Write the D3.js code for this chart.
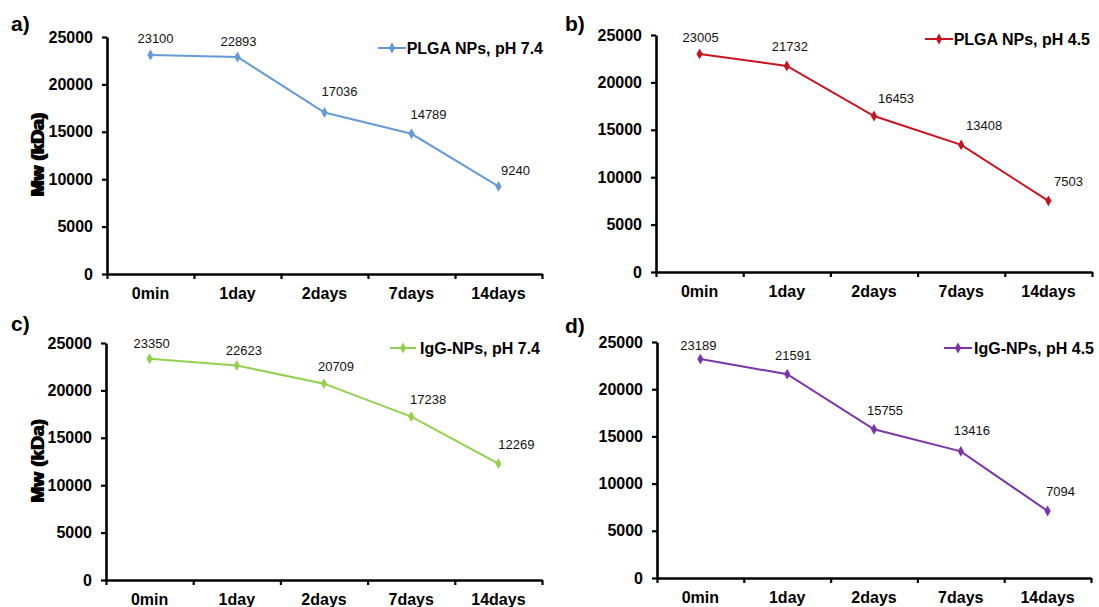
<!DOCTYPE html>
<html>
<head>
<meta charset="utf-8">
<script src="https://cdn.jsdelivr.net/npm/d3@7"></script>
<style>
  html, body { margin: 0; padding: 0; background: #fff; }
  svg { display: block; font-family: "Liberation Sans", Arial, sans-serif; }
</style>
</head>
<body>
<svg id="chart" width="1099" height="607"></svg>
<script>
// ---- data ----
const categories = ["0min", "1day", "2days", "7days", "14days"];
const yTicks = [0, 5000, 10000, 15000, 20000, 25000];
const plgaPH74 = [23100, 22893, 17036, 14789, 9240];
const plgaPH45 = [23005, 21732, 16453, 13408, 7503];
const iggPH74 = [23350, 22623, 20709, 17238, 12269];
const iggPH45 = [23189, 21591, 15755, 13416, 7094];
const seriesNames = ["PLGA NPs, pH 7.4", "PLGA NPs, pH 4.5", "IgG-NPs, pH 7.4", "IgG-NPs, pH 4.5"];
const panelLetters = ["a)", "b)", "c)", "d)"];
const yTitle = "Mw (kDa)";

// ---- layout (not data) ----
const panels = [
  { values: plgaPH74, name: seriesNames[0], letter: panelLetters[0], color: "#659ad6",
    x0: 107, x1: 542, yTop: 37, yBot: 274, letterPos: [11, 31],
    legend: { l0: 378, l1: 406, end: 543, y: 48 },
    lblDx: [5, 1, 15, 17, 17], lblDy: [-17, -16, -21, -19, -16] },
  { values: plgaPH45, name: seriesNames[1], letter: panelLetters[1], color: "#c8141e",
    x0: 656, x1: 1092, yTop: 35, yBot: 272, letterPos: [565, 31],
    legend: { l0: 925, l1: 953, end: 1090, y: 39 },
    lblDx: [1, 3, 22, 23, 20], lblDy: [-16, -20, -18, -19, -19] },
  { values: iggPH74, name: seriesNames[2], letter: panelLetters[2], color: "#92d050",
    x0: 106, x1: 542, yTop: 343, yBot: 580, letterPos: [11, 331],
    legend: { l0: 390, l1: 416, end: 540, y: 348 },
    lblDx: [2, 7, 12, 17, 18], lblDy: [-15, -15, -17, -17, -19] },
  { values: iggPH45, name: seriesNames[3], letter: panelLetters[3], color: "#7b35a8",
    x0: 657, x1: 1091, yTop: 342, yBot: 578, letterPos: [565, 333],
    legend: { l0: 944, l1: 972, end: 1094, y: 348 },
    lblDx: [-2, 6, 11, 11, 13], lblDy: [-14, -19, -19, -21, -20] }
];

const svg = d3.select("#chart");
const diamond = d3.symbol().type(d3.symbolDiamond).size(34);

panels.forEach(p => {
  const g = svg.append("g");
  const x = d3.scaleBand().domain(categories).range([p.x0, p.x1]).paddingInner(0).paddingOuter(0);
  const xb = d3.scaleLinear().domain([0, categories.length]).range([p.x0, p.x1]);
  const y = d3.scaleLinear().domain([0, 25000]).range([p.yBot, p.yTop]);
  const cx = c => x(c) + x.bandwidth() / 2;

  // y axis
  const ya = g.append("g").attr("transform", `translate(${p.x0},0)`)
    .call(d3.axisLeft(y).tickValues(yTicks).tickSize(5).tickSizeOuter(0).tickPadding(9).tickFormat(d3.format("d")));
  ya.select(".domain").attr("stroke", "#000").attr("stroke-width", 2.6);
  ya.selectAll(".tick line").attr("stroke", "#000").attr("stroke-width", 2.2);
  ya.selectAll(".tick text").attr("font-size", 16).attr("font-weight", "bold")
    .attr("fill", "#000").attr("font-family", "Liberation Sans, Arial, sans-serif");

  // x axis
  const xa = g.append("g").attr("transform", `translate(0,${p.yBot})`)
    .call(d3.axisBottom(xb).tickValues(d3.range(categories.length + 1)).tickSize(5).tickSizeOuter(0).tickFormat(""));
  xa.select(".domain").attr("stroke", "#000").attr("stroke-width", 2.6);
  xa.selectAll(".tick line").attr("stroke", "#000").attr("stroke-width", 2.2);

  // category labels
  g.selectAll("text.cat").data(categories).enter().append("text")
    .attr("class", "cat")
    .attr("x", d => cx(d))
    .attr("y", p.yBot + 25)
    .attr("text-anchor", "middle")
    .attr("font-size", 16).attr("font-weight", "bold").attr("fill", "#000")
    .text(d => d);

  // y title
  g.append("text")
    .attr("transform", `translate(44,${(p.yTop + p.yBot) / 2}) rotate(-90)`)
    .attr("text-anchor", "middle")
    .attr("font-size", 19).attr("font-weight", "bold").attr("fill", "#000")
    .text(yTitle);

  // panel letter
  g.append("text")
    .attr("x", p.letterPos[0]).attr("y", p.letterPos[1])
    .attr("font-size", 21).attr("font-weight", "bold").attr("fill", "#000")
    .text(p.letter);

  // line
  const line = d3.line().x((d, i) => cx(categories[i])).y(d => y(d));
  g.append("path").datum(p.values)
    .attr("d", line).attr("fill", "none")
    .attr("stroke", p.color).attr("stroke-width", 2);

  // markers
  g.selectAll("path.mk").data(p.values).enter().append("path")
    .attr("class", "mk")
    .attr("d", diamond)
    .attr("transform", (d, i) => `translate(${cx(categories[i])},${y(d)})`)
    .attr("fill", p.color);

  // data labels
  g.selectAll("text.lbl").data(p.values).enter().append("text")
    .attr("class", "lbl")
    .attr("x", (d, i) => cx(categories[i]) + p.lblDx[i])
    .attr("y", (d, i) => y(d) + p.lblDy[i])
    .attr("dy", "0.35em")
    .attr("text-anchor", "middle")
    .attr("font-size", 13).attr("fill", "#111")
    .text(d => d);

  // legend
  const L = p.legend;
  g.append("line").attr("x1", L.l0).attr("x2", L.l1).attr("y1", L.y).attr("y2", L.y)
    .attr("stroke", p.color).attr("stroke-width", 2);
  g.append("path").attr("d", diamond)
    .attr("transform", `translate(${(L.l0 + L.l1) / 2},${L.y})`).attr("fill", p.color);
  g.append("text")
    .attr("x", L.end).attr("y", L.y).attr("dy", "0.35em")
    .attr("text-anchor", "end")
    .attr("font-size", 16).attr("font-weight", "bold").attr("fill", "#000")
    .text(p.name);
});
</script>
</body>
</html>
